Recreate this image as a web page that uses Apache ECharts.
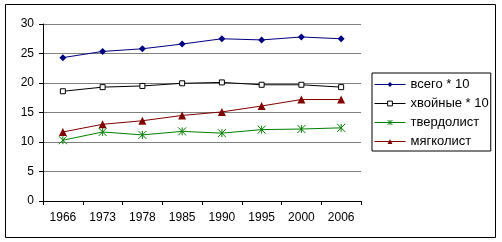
<!DOCTYPE html>
<html>
<head>
<meta charset="utf-8">
<script src="https://cdn.jsdelivr.net/npm/echarts@6/dist/echarts.min.js"></script>
<style>
  html, body { margin: 0; padding: 0; background: #fff; }
  #chart { width: 502px; height: 242px; }
</style>
</head>
<body>
<div id="chart"></div>
<script>
// years on the x axis
var years = ['1966', '1973', '1978', '1985', '1990', '1995', '2000', '2006'];

// values
var vsego = [24.3, 25.35, 25.8, 26.6, 27.5, 27.3, 27.8, 27.5];
var hvoinye = [18.6, 19.3, 19.5, 19.95, 20.1, 19.7, 19.7, 19.3];
var tverdolist = [10.3, 11.7, 11.2, 11.8, 11.5, 12.1, 12.2, 12.4];
var myagkolist = [11.7, 13.0, 13.6, 14.5, 15.1, 16.1, 17.2, 17.2];

var font = 'Liberation Sans, Arial, sans-serif';
var zhPath = 'path://M0,0L10,10M10,0L0,10M5,0L5,10';

var chart = echarts.init(document.getElementById('chart'), null, { renderer: 'canvas' });

var option = {
  animation: false,
  backgroundColor: '#fff',
  textStyle: { fontFamily: font, color: '#000' },
  graphic: [{
    type: 'rect',
    shape: { x: 5.5, y: 4.5, width: 490, height: 233 },
    style: { fill: 'none', stroke: '#000', lineWidth: 1 },
    silent: true
  }],
  grid: { left: 43, right: 141, top: 24, bottom: 41 },
  legend: {
    orient: 'vertical',
    left: 372,
    top: 73,
    padding: [5, 2, 3, 2],
    itemGap: 6,
    itemWidth: 31,
    itemHeight: 6,
    borderColor: '#000',
    borderWidth: 1,
    lineStyle: { width: 1 },
    itemStyle: { borderWidth: 1 },
    textStyle: { fontFamily: font, fontSize: 13, lineHeight: 13, color: '#000' },
    data: ['всего * 10', 'хвойные * 10', 'твердолист', 'мягколист']
  },
  xAxis: {
    type: 'category',
    data: years,
    boundaryGap: true,
    axisLine: { lineStyle: { color: '#000', width: 1 } },
    axisTick: { show: true, length: 4, lineStyle: { color: '#000' } },
    axisLabel: { color: '#000', fontSize: 12, fontFamily: font, margin: 11 }
  },
  yAxis: {
    type: 'value',
    min: 0,
    max: 30,
    interval: 5,
    axisLine: { show: true, lineStyle: { color: '#000', width: 1 } },
    axisTick: { show: true, length: 4, lineStyle: { color: '#000' } },
    axisLabel: { color: '#000', fontSize: 12, fontFamily: font, margin: 9 },
    splitLine: { lineStyle: { color: '#808080', width: 1 } }
  },
  series: [
    {
      name: 'всего * 10',
      type: 'line',
      data: vsego,
      symbol: 'diamond',
      symbolSize: 7,
      lineStyle: { color: '#000080', width: 1 },
      itemStyle: { color: '#000080' }
    },
    {
      name: 'хвойные * 10',
      type: 'line',
      data: hvoinye,
      symbol: 'rect',
      symbolSize: 5,
      lineStyle: { color: '#000', width: 1 },
      itemStyle: { color: '#fff', borderColor: '#000', borderWidth: 1 }
    },
    {
      name: 'твердолист',
      type: 'line',
      data: tverdolist,
      symbol: zhPath,
      symbolSize: 8,
      lineStyle: { color: '#008000', width: 1 },
      itemStyle: { color: 'transparent', borderColor: '#008000', borderWidth: 1 }
    },
    {
      name: 'мягколист',
      type: 'line',
      data: myagkolist,
      symbol: 'triangle',
      symbolSize: 8,
      lineStyle: { color: '#800000', width: 1 },
      itemStyle: { color: '#800000' }
    }
  ]
};

chart.setOption(option);
</script>
</body>
</html>
